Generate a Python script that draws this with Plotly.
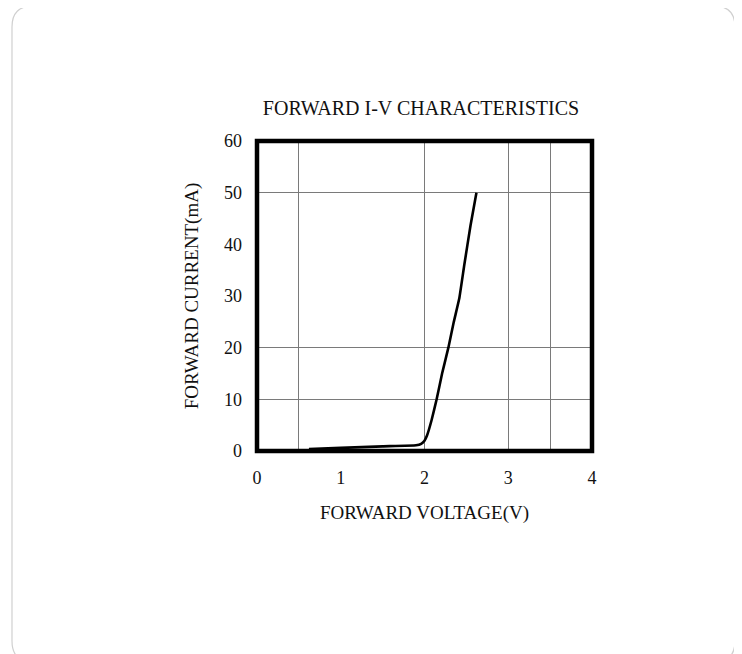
import plotly.graph_objects as go

# Data
voltage = [0.62, 1.0, 1.5, 1.9, 1.96, 2.0, 2.03, 2.085, 2.145, 2.21, 2.285, 2.35, 2.415, 2.475, 2.55, 2.62]
current = [0.4, 0.6, 0.9, 1.1, 1.4, 2.0, 3.0, 6.0, 10.0, 15.0, 20.0, 25.0, 29.5, 36.0, 43.7, 50.0]
x_ticks = [0, 1, 2, 3, 4]
y_ticks = [0, 10, 20, 30, 40, 50, 60]
x_grid = [0.5, 2, 3, 3.5]
y_grid = [10, 20, 50]

OFF = 8  # page body margin
W, H = 742 - OFF, 654 - OFF
L, R, T, B = 257 - OFF, 592 - OFF, 141 - OFF, 451 - OFF

def px(x):
    return (x - OFF - L) / (R - L)

def py(y):
    return (B - (y - OFF)) / (B - T)

FONT = "Liberation Serif"

fig = go.Figure()
fig.add_trace(go.Scatter(x=voltage, y=current, mode="lines",
                         line=dict(color="black", width=2.6, shape="spline", smoothing=0.3),
                         showlegend=False, hoverinfo="skip"))

# rounded card (reference pixel coordinates)
x0, x1, y0, y1, r = 12, 735, 6, 662, 21
path = (f"M {px(x0+r)},{py(y0)} L {px(x1-r)},{py(y0)} "
        f"Q {px(x1)},{py(y0)} {px(x1)},{py(y0+r)} "
        f"L {px(x1)},{py(y1-r)} Q {px(x1)},{py(y1)} {px(x1-r)},{py(y1)} "
        f"L {px(x0+r)},{py(y1)} Q {px(x0)},{py(y1)} {px(x0)},{py(y1-r)} "
        f"L {px(x0)},{py(y0+r)} Q {px(x0)},{py(y0)} {px(x0+r)},{py(y0)} Z")

fig.update_layout(
    width=W, height=H,
    margin=dict(l=L, r=W - R, t=T, b=H - B),
    paper_bgcolor="white", plot_bgcolor="white",
    font=dict(family=FONT, color="#111", size=18),
    title=dict(text="FORWARD I-V CHARACTERISTICS", x=(421 - OFF) / W, xanchor="center",
               y=1 - (108 - OFF) / H, yanchor="middle", font=dict(family=FONT, size=20, color="#111")),
    xaxis=dict(range=[0, 4], tickvals=x_ticks, ticktext=[str(v) for v in x_ticks],
               showgrid=False, zeroline=False, showline=False, ticks="",
               ticklabelstandoff=14, tickfont=dict(size=18),
               minor=dict(tickvals=x_grid, showgrid=True, gridcolor="#7a7a7a", gridwidth=1, ticks=""),
               title=dict(text="FORWARD VOLTAGE(V)", standoff=18, font=dict(family=FONT, size=19))),
    yaxis=dict(range=[0, 60], tickvals=y_ticks, ticktext=[str(v) for v in y_ticks],
               showgrid=False, zeroline=False, showline=False, ticks="",
               ticklabelstandoff=14, tickfont=dict(size=18),
               minor=dict(tickvals=y_grid, showgrid=True, gridcolor="#7a7a7a", gridwidth=1, ticks=""),
               title=dict(text="FORWARD CURRENT(mA)", standoff=20, font=dict(family=FONT, size=19))),
    shapes=[
        dict(type="path", path=path, xref="paper", yref="paper",
             line=dict(color="#d0d0d0", width=1.2), fillcolor="rgba(0,0,0,0)", layer="below"),
        dict(type="rect", xref="paper", yref="paper", x0=0, x1=1, y0=0, y1=1,
             line=dict(color="black", width=4.5), layer="above"),
    ],
)

fig.write_html("out.html")
